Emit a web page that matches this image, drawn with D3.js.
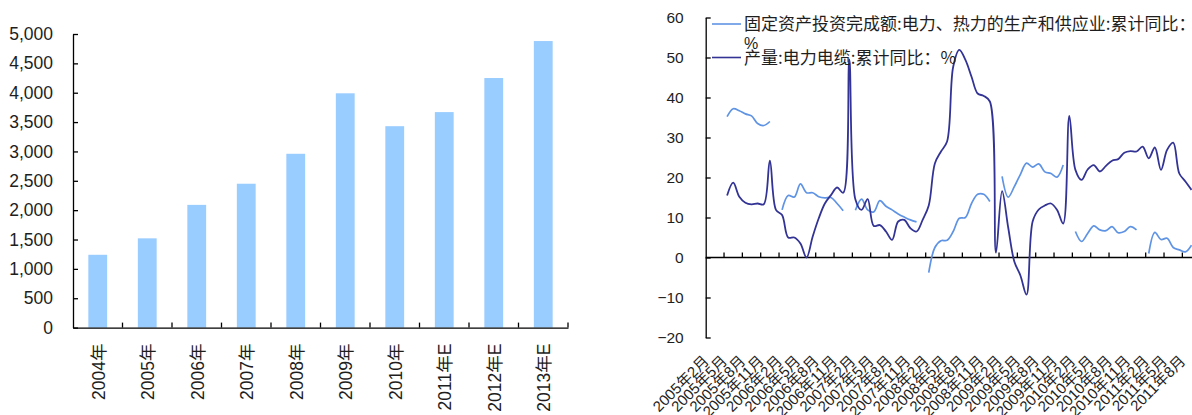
<!DOCTYPE html>
<html>
<head>
<meta charset="utf-8">
<script src="https://cdn.jsdelivr.net/npm/d3@7"></script>
<style>
  body { margin: 0; background: #fff; }
  svg { display: block; }
</style>
</head>
<body>
<svg id="chart" width="1192" height="415"></svg>
<script>
// ---- Left panel: annual volume (bars) ----
const years = ["2004年", "2005年", "2006年", "2007年", "2008年", "2009年", "2010年", "2011年E", "2012年E", "2013年E"];
const volume = [1240, 1520, 2090, 2450, 2960, 3990, 3430, 3670, 4250, 4880];
const volumeTicks = [0, 500, 1000, 1500, 2000, 2500, 3000, 3500, 4000, 4500, 5000];

// ---- Right panel: monthly cumulative YoY growth (%) ----
const seriesNames = [
  "固定资产投资完成额:电力、热力的生产和供应业:累计同比：",
  "产量:电力电缆:累计同比：%"
];
const monthTickLabels = [
  "2005年2月", "2005年5月", "2005年8月", "2005年11月",
  "2006年2月", "2006年5月", "2006年8月", "2006年11月",
  "2007年2月", "2007年5月", "2007年8月", "2007年11月",
  "2008年2月", "2008年5月", "2008年8月", "2008年11月",
  "2009年2月", "2009年5月", "2009年8月", "2009年11月",
  "2010年2月", "2010年5月", "2010年8月", "2010年11月",
  "2011年2月", "2011年5月", "2011年8月"
];
const growthTicks = [-20, -10, 0, 10, 20, 30, 40, 50, 60];

// Monthly categories 2005年2月 … 2011年9月
const months = [];
for (let y = 2005, m = 2; months.length < 80;) {
  months.push(`${y}年${m}月`);
  m++; if (m > 12) { m = 1; y++; }
}

// Fixed-asset investment, power & heat supply, cumulative YoY (January not published)
const investYoY = [
  null, null, null, 35.2, 37.2, 36.7, 35.9, 35.4, 33.5, 33.0, 34.0,
  null, 11.9, 15.5, 15.1, 18.4, 16.2, 16.2, 15.2, 14.9, 15.0, 13.5, 11.7,
  null, 11.8, 14.6, 11.9, 11.4, 14.2, 12.8, 11.9, 10.9, 10.1, 9.4, 8.9,
  null, -3.8, 2.5, 4.2, 4.3, 6.5, 9.8, 10.0, 13.5, 15.8, 15.8, 14.0,
  null, 20.3, 15.1, 17.7, 20.8, 23.6, 22.6, 23.4, 21.4, 21.0, 20.1, 23.1,
  null, 6.5, 4.0, 6.0, 7.9, 6.9, 6.7, 7.7, 6.2, 6.5, 7.7, 6.9,
  null, 1.0, 6.3, 4.5, 4.8, 2.5, 1.9, 1.4, 3.1
];

// Power cable output, cumulative YoY
const cableYoY = [
  null, null, null, 15.5, 18.7, 15.2, 13.7, 13.3, 13.5, 13.3, 24.2,
  11.9, 10.6, 5.0, 5.0, 3.5, 0.0, 5.2, 9.8, 13.5, 15.6, 17.5, 16.2,
  49.5, 14.5, 11.9, 14.6, 7.9, 8.1, 6.5, 4.4, 9.0, 9.4, 7.3, 6.5,
  9.4, 13.0, 23.5, 26.5, 29.0, 47.7, 51.9, 49.4, 45.2, 41.0, 40.4, 39.0,
  1.2, 16.6, 7.5, -1.0, -4.5, -9.3, 9.0, 12.0, 13.0, 13.5, 11.9, 8.5,
  35.4, 21.9, 19.4, 22.0, 23.1, 21.5, 22.9, 24.2, 24.6, 26.2, 26.6, 26.5,
  27.7, 24.8, 27.5, 21.9, 26.9, 28.7, 21.0, 19.0, 16.9
];

const NUM_FONT = "'Liberation Sans', Arial, 'Noto Sans CJK SC', sans-serif";
const CJK_FONT = "'Noto Sans CJK SC', 'Liberation Sans', sans-serif";
const TEXT = "#1e1e1e";
const LIGHT = "#5f93e3";
const DARK = "#323394";

const svg = d3.select("#chart");
svg.append("rect").attr("width", 1192).attr("height", 415).attr("fill", "#fff");

// ================= Left panel =================
const L = { left: 73, right: 568, top: 34, bottom: 327.6 };
const xL = d3.scaleBand().domain(years).range([L.left, L.right]).paddingInner(0.62).paddingOuter(0.31);
const yL = d3.scaleLinear().domain([0, 5000]).range([L.bottom, L.top]);

svg.append("g").selectAll("rect").data(years).join("rect")
  .attr("x", d => xL(d))
  .attr("width", xL.bandwidth())
  .attr("y", (d, i) => yL(volume[i]))
  .attr("height", (d, i) => yL(0) - yL(volume[i]))
  .attr("fill", "#99ccff");

const gyL = svg.append("g")
  .attr("transform", `translate(${L.left},0)`)
  .call(d3.axisLeft(yL).tickValues(volumeTicks).tickFormat(d3.format(","))
    .tickSizeInner(-5).tickSizeOuter(0).tickPadding(20));
gyL.attr("font-size", null).attr("font-family", null).attr("color", "#000");
gyL.selectAll("text").attr("font-size", 17.5).attr("font-family", NUM_FONT).attr("fill", TEXT);
gyL.selectAll("line, path").attr("stroke-width", 1.3);

const gxL = svg.append("g")
  .attr("transform", `translate(0,${L.bottom})`)
  .call(d3.axisBottom(xL).tickSize(0).tickSizeOuter(0));
gxL.attr("font-size", null).attr("font-family", null).attr("color", "#000");
gxL.select(".domain").attr("stroke-width", 1.3);
gxL.selectAll("text")
  .attr("font-size", 17.5).attr("font-family", NUM_FONT).attr("fill", TEXT)
  .attr("text-anchor", "end")
  .attr("x", 0).attr("y", 0).attr("dy", "0.35em")
  .attr("transform", "translate(1,16) rotate(-90)");

// category boundary ticks on the left panel
const boundL = years.map(d => xL(d) + xL.bandwidth() / 2 + xL.step() / 2);
svg.append("g").selectAll("line").data(boundL).join("line")
  .attr("x1", d => d).attr("x2", d => d)
  .attr("y1", L.bottom).attr("y2", L.bottom - 5)
  .attr("stroke", "#000").attr("stroke-width", 1.3);

// ================= Right panel =================
const R = { left: 705.7, top: 17.5, bottom: 337.5, step: 6.111 };
const xR = d3.scaleBand().domain(months).range([R.left, R.left + months.length * R.step]);
const yR = d3.scaleLinear().domain([-20, 60]).range([R.bottom, R.top]);
const cx = d => xR(d) + xR.bandwidth() / 2;

// zero line with quarterly boundary ticks
const zeroY = yR(0);
svg.append("line")
  .attr("x1", R.left).attr("x2", xR.range()[1])
  .attr("y1", zeroY).attr("y2", zeroY)
  .attr("stroke", "#000").attr("stroke-width", 1.3);
svg.append("g").selectAll("line")
  .data(months.filter((d, i) => i % 3 === 0 && i > 0))
  .join("line")
  .attr("x1", d => xR(d)).attr("x2", d => xR(d))
  .attr("y1", zeroY).attr("y2", zeroY - 5)
  .attr("stroke", "#000").attr("stroke-width", 1.3);

const gyR = svg.append("g")
  .attr("transform", `translate(${R.left},0)`)
  .call(d3.axisLeft(yR).tickValues(growthTicks)
    .tickSizeInner(-5).tickSizeOuter(0).tickPadding(22));
gyR.attr("font-size", null).attr("font-family", null).attr("color", "#000");
gyR.selectAll("text").attr("font-size", 15.5).attr("font-family", NUM_FONT).attr("fill", TEXT);
gyR.selectAll("line, path").attr("stroke-width", 1.3);

// month labels along the bottom, rotated
const gxR = svg.append("g")
  .attr("transform", `translate(0,362)`)
  .call(d3.axisBottom(xR).tickValues(monthTickLabels).tickSize(0));
gxR.select(".domain").remove();
gxR.attr("font-size", null).attr("font-family", null);
gxR.selectAll("text")
  .attr("font-size", 15).attr("font-family", NUM_FONT).attr("fill", TEXT)
  .attr("text-anchor", "end")
  .attr("x", 0).attr("y", 0).attr("dy", null)
  .attr("transform", "translate(1,0) rotate(-45)");

// smoothed series lines
const lineGen = d3.line()
  .defined(d => d.v != null)
  .x(d => cx(d.m))
  .y(d => yR(d.v))
  .curve(d3.curveCatmullRom.alpha(0.5));

const investPts = months.map((m, i) => ({ m, v: investYoY[i] }));
const cablePts = months.map((m, i) => ({ m, v: cableYoY[i] }));

svg.append("path").datum(investPts)
  .attr("d", lineGen).attr("fill", "none")
  .attr("stroke", LIGHT).attr("stroke-width", 1.7);
svg.append("path").datum(cablePts)
  .attr("d", lineGen).attr("fill", "none")
  .attr("stroke", DARK).attr("stroke-width", 1.8);

// legend
const legend = svg.append("g");
const legendRows = [
  { y: 24, color: LIGHT, label: seriesNames[0] },
  { y: 57.5, color: DARK, label: seriesNames[1] }
];
legendRows.forEach(r => {
  legend.append("line")
    .attr("x1", 712).attr("x2", 741).attr("y1", r.y).attr("y2", r.y)
    .attr("stroke", r.color).attr("stroke-width", 1.6);
  legend.append("text")
    .attr("x", 744).attr("y", r.y).attr("dy", "0.36em")
    .attr("font-size", 17).attr("font-family", CJK_FONT).attr("fill", TEXT)
    .text(r.label);
});
// wrapped tail of the first legend entry
legend.append("text")
  .attr("x", 744).attr("y", 43).attr("dy", "0.36em")
  .attr("font-size", 16).attr("font-family", NUM_FONT).attr("fill", TEXT)
  .text("%");
</script>
</body>
</html>
